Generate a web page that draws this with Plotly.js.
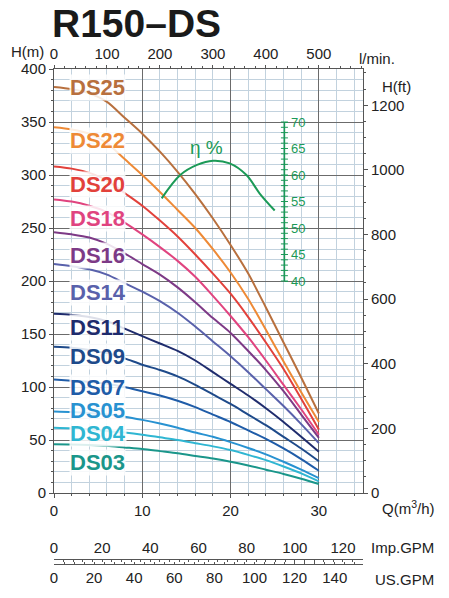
<!DOCTYPE html>
<html><head><meta charset="utf-8">
<script src="https://cdn.plot.ly/plotly-3.0.1.min.js"></script>
<style>html,body{margin:0;padding:0;background:#fff;}#chart{width:449px;height:598px;}</style>
</head><body><div id="chart"></div>
<script>
// Flow points (m3/h)
const Q = [0,2,4,6,8,10,12,14,16,18,20,22,24,26,28,30];
// Head (m) per model
const DS25 = [383,381,377,369,354,339,322,303,282,259,234,207,175,142,109,75];
const DS22 = [345,343,339,330,315,300,284,267,250,230,208,183,154,124,95,67];
const DS20 = [308,306,302,295,283,271,257,242,225,207,188,166,142,117,89,60];
const DS18 = [277,275,271,265,255,244,232,219,204,186,167,147,125,102,79,55];
const DS16 = [246,244,241,235,226,216,206,194,180,165,151,134,116,96,74,52];
const DS14 = [216,214,211,206,198,190,181,170,157,143,129,114,98,82,65,47];
const DS11 = [169,168,166,162,155,148,141,134,125,114,103,92,80,67,53,39];
const DS09 = [138,137,135,132,127,121,116,110,102,93,84,74,64,53,42,30];
const DS07 = [107,106,105,103,100,96,92,87,81,74,67,59,51,42,32,21];
const DS05 = [77,76.5,75.5,74,72,69,65.5,61.5,57,53,48,42.5,36.5,29.5,22,14];
const DS04 = [61.5,61,60,58.5,57,55,52.5,50,47,44,40.5,36,31,25,18.5,11];
const DS03 = [46,45.8,45.3,44.5,43,41.5,39.5,37.5,35,32.5,29.5,26,22,18,13.5,8.5];

const models = ["DS25","DS22","DS20","DS18","DS16","DS14","DS11","DS09","DS07","DS05","DS04","DS03"];
const labels = ["DS25","DS22","DS20","DS18","DS16","DS14","DS11","DS09","DS07","DS05","DS04","DS03"];
const heads = [DS25,DS22,DS20,DS18,DS16,DS14,DS11,DS09,DS07,DS05,DS04,DS03];
const colors = ["#b8703e","#ee8a36","#e2413b","#e0447f","#7d3a86","#5961ab","#1f2c6d","#1e4a8a","#1f5ca8","#2892d1","#2fb6d2","#1a968a"];
// label anchor heads (m)
const labelH = [383,333,291.5,259.4,224.5,189.6,155.7,129.2,100,78.3,56.6,29.2];
const labelQ = 1.7;

// Efficiency curve
const etaQ = [12.2,14.3,16.2,18.0,19.9,21.8,23.3,25.0];
const etaVal = [55.6,60.0,61.9,62.7,62.2,60.0,56.5,53.3];
const etaTicks = [40,45,50,55,60,65,70];
const etaMinor = [40,41,42,43,44,45,46,47,48,49,50,51,52,53,54,55,56,57,58,59,60,61,62,63,64,65,66,67,68,69,70];
const etaAxisQ = 26.1;

// Secondary axis ticks
const lminTicks = [0,100,200,300,400,500];
const ftTicks = [0,200,400,600,800,1000,1200];
const impTicks = [0,20,40,60,80,100,120];
const usTicks = [0,20,40,60,80,100,120,140];
const qTicks = [0,10,20,30];

const QMAX = 35, HMAX = 400;
const GREEN = "#1b9a57";
const FONT = "Liberation Sans, Arial, sans-serif";

const traces = [];
heads.forEach((h,i)=>{
  traces.push({x:Q, y:h, type:"scatter", mode:"lines", name:models[i],
    line:{color:colors[i], width:2, shape:"spline", smoothing:0.8}, hoverinfo:"skip", showlegend:false});
});
traces.push({x:etaQ, y:etaVal, yaxis:"y3", type:"scatter", mode:"lines",
  line:{color:GREEN, width:2, shape:"spline"}, showlegend:false, hoverinfo:"skip"});
traces.push({x:etaMinor.map(()=>etaAxisQ), y:etaMinor, yaxis:"y3", type:"scatter", mode:"lines+markers",
  line:{color:GREEN, width:1.5}, marker:{symbol:"line-ew", size:5, line:{color:GREEN, width:1}},
  showlegend:false, hoverinfo:"skip"});
traces.push({x:[], y:[], xaxis:"x2", type:"scatter", showlegend:false});
traces.push({x:[], y:[], xaxis:"x3", type:"scatter", showlegend:false});
traces.push({x:[], y:[], xaxis:"x4", type:"scatter", showlegend:false});
traces.push({x:[], y:[], yaxis:"y2", type:"scatter", showlegend:false});

// layout geometry (paper fractions of plot area)
const PT=69, PB=590, PL=54, PR=363;
const px2x = p => (p-PL)/(PR-PL);
const py2y = p => (PB-p)/(PB-PT);

const tickFont = {family:FONT, size:15, color:"#222"};
const annotations = labels.map((t,i)=>({
  x:labelQ, y:labelH[i], xref:"x", yref:"y", text:"<b>"+t+"</b>", showarrow:false,
  xanchor:"left", yanchor:"middle", font:{family:FONT, size:22, color:colors[i]},
  bgcolor:"rgba(255,255,255,0.85)", borderpad:0
}));
const lab = (px,py,txt)=>({x:px2x(px), y:py2y(py), xref:"paper", yref:"paper", text:txt, showarrow:false,
  xanchor:"center", yanchor:"middle", font:tickFont});
annotations.push(
  lab(27,52,"H(m)"),
  lab(377,58,"l/min."),
  lab(396,86,"H(ft)"),
  lab(408,507,"Q(m<sup>3</sup>/h)"),
  lab(402,547,"Imp.GPM"),
  lab(404,579,"US.GPM"),
  {x:17.3, y:326, xref:"x", yref:"y", text:"η %", showarrow:false, xanchor:"center", yanchor:"middle",
   font:{family:FONT, size:19, color:GREEN}}
);

const majorGrid = "#6b6b6b", minorGrid = "#c2d2de", axLine = "#555";
const layout = {
  width:449, height:598,
  margin:{l:PL, r:449-PR, t:PT, b:598-PB, pad:0},
  paper_bgcolor:"#fff", plot_bgcolor:"#fff",
  showlegend:false,
  title:{text:"<b>R150–DS</b>", x:52/449, xref:"container", xanchor:"left", y:1-23/598, yref:"container", yanchor:"middle",
    font:{family:FONT, size:39, color:"#1a1a1a"}},
  xaxis:{domain:[0,1], anchor:"y", range:[0,QMAX], tickvals:qTicks, ticks:"outside", ticklen:4, tickcolor:axLine,
    showline:true, linecolor:axLine, linewidth:1, showgrid:true, gridcolor:majorGrid, gridwidth:1, zeroline:false,
    minor:{dtick:2, tick0:0, showgrid:true, gridcolor:minorGrid, gridwidth:1, ticks:"outside", ticklen:2, tickcolor:axLine},
    tickfont:tickFont, fixedrange:true},
  xaxis2:{overlaying:"x", anchor:"y", side:"top", range:[0,QMAX*1000/60], tickvals:lminTicks, ticks:"outside", ticklen:3,
    tickcolor:axLine, showline:true, linecolor:axLine, showgrid:false, zeroline:false,
    minor:{dtick:20, tick0:0, ticks:"outside", ticklen:2, tickcolor:axLine, showgrid:false}, tickfont:tickFont},
  xaxis3:{overlaying:"x", anchor:"free", position:py2y(559), side:"top", range:[0,QMAX*3.66615], tickvals:impTicks,
    ticks:"inside", ticklen:2, tickcolor:axLine, showline:true, linecolor:axLine, showgrid:false, zeroline:false,
    minor:{dtick:4, tick0:0, ticks:"inside", ticklen:2, tickcolor:axLine, showgrid:false}, tickfont:tickFont},
  xaxis4:{overlaying:"x", anchor:"free", position:py2y(564), side:"bottom", range:[0,QMAX*4.40287], tickvals:usTicks,
    ticks:"inside", ticklen:2, tickcolor:axLine, showline:true, linecolor:axLine, showgrid:false, zeroline:false,
    minor:{dtick:5, tick0:0, ticks:"inside", ticklen:2, tickcolor:axLine, showgrid:false}, tickfont:tickFont},
  yaxis:{domain:[py2y(493),1], anchor:"x", range:[0,HMAX], dtick:50, tick0:0, ticks:"outside", ticklen:4, tickcolor:axLine,
    showline:true, linecolor:axLine, showgrid:true, gridcolor:majorGrid, gridwidth:1, zeroline:false,
    minor:{dtick:10, tick0:0, showgrid:true, gridcolor:minorGrid, gridwidth:1, ticks:"outside", ticklen:2, tickcolor:axLine},
    tickfont:tickFont},
  yaxis2:{overlaying:"y", anchor:"x", side:"right", range:[0,HMAX*3.28084], tickvals:ftTicks, ticks:"outside", ticklen:4,
    tickcolor:axLine, showline:true, linecolor:axLine, showgrid:false, zeroline:false,
    minor:{dtick:50, tick0:0, ticks:"outside", ticklen:2, tickcolor:axLine, showgrid:false}, tickfont:tickFont},
  yaxis3:{overlaying:"y", anchor:"free", position:px2x(PL + etaAxisQ/QMAX*(PR-PL)), side:"right", range:[0,80],
    tickvals:etaTicks, ticks:"outside", ticklen:3, tickcolor:GREEN, showline:false, showgrid:false, zeroline:false,
    tickfont:{family:FONT, size:13, color:GREEN}},
  annotations:annotations
};
Plotly.newPlot("chart", traces, layout, {staticPlot:true, displayModeBar:false});
</script></body></html>
